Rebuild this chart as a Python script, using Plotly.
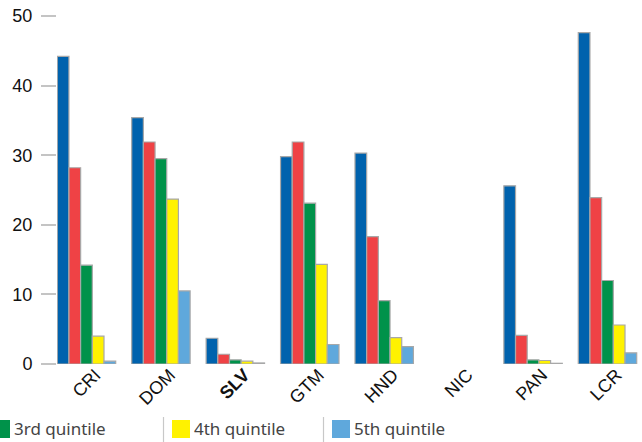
import plotly.graph_objects as go

# Share of population by income quintile, per country
countries = ["CRI", "DOM", "SLV", "GTM", "HND", "NIC", "PAN", "LCR"]
country_labels = ["CRI", "DOM", "<b>SLV</b>", "GTM", "HND", "NIC", "PAN", "LCR"]

q1 = [44.2, 35.4, 3.7, 29.8, 30.3, None, 25.6, 47.6]
q2 = [28.2, 31.9, 1.4, 31.9, 18.3, None, 4.1, 23.9]
q3 = [14.2, 29.5, 0.6, 23.1, 9.1, None, 0.6, 12.0]
q4 = [4.0, 23.7, 0.4, 14.3, 3.8, None, 0.5, 5.6]
q5 = [0.4, 10.5, 0.15, 2.8, 2.5, None, 0.1, 1.6]

series_names = ["1st quintile", "2nd quintile", "3rd quintile", "4th quintile", "5th quintile"]
series_values = [q1, q2, q3, q4, q5]
series_colors = ["#0062ad", "#ef4245", "#00924a", "#fff200", "#5fa8dc"]

y_ticks = [0, 10, 20, 30, 40, 50]

W, H = 642, 442
ML, MR, MT, MB = 57, 2, 16, 78
PW, PH = W - ML - MR, H - MT - MB

fig = go.Figure()
for name, vals, col in zip(series_names, series_values, series_colors):
    fig.add_trace(go.Bar(
        x=countries, y=vals, name=name,
        marker=dict(color=col, line=dict(color="#a8a8a8", width=1.2)),
        showlegend=False,
    ))


def px_x(p):
    return (p - ML) / PW


def px_y(p):
    return (H - MB - p) / PH


# Legend row along the bottom edge; the row is scrolled so the first
# entries sit left of the page and only the visible ones are drawn
legend_sq_left = [-368, -188, -8, 172, 332]
shapes = []
annotations = []
for i, (name, col, x0) in enumerate(zip(series_names, series_colors, legend_sq_left)):
    if x0 + 18 <= 0:
        continue
    shapes.append(dict(type="rect", xref="paper", yref="paper",
                       x0=px_x(x0), x1=px_x(x0 + 18), y0=px_y(438), y1=px_y(420),
                       fillcolor=col, line=dict(width=0), layer="above"))
    annotations.append(dict(text=name, xref="paper", yref="paper",
                            x=px_x(x0 + 20), y=px_y(429), xanchor="left", yanchor="middle",
                            showarrow=False,
                            font=dict(family="Noto Sans", size=17, color="#444444")))
    if x0 - 8.5 > 0:
        sx = x0 - 8.5
        shapes.append(dict(type="line", xref="paper", yref="paper",
                           x0=px_x(sx), x1=px_x(sx), y0=px_y(417), y1=px_y(442),
                           line=dict(color="#c8c8c8", width=1.2)))

fig.update_layout(
    width=W, height=H,
    margin=dict(l=ML, r=MR, t=MT, b=MB, autoexpand=False),
    paper_bgcolor="white", plot_bgcolor="white",
    barmode="group", bargap=0.215, bargroupgap=0,
    shapes=shapes, annotations=annotations,
    xaxis=dict(
        type="category", range=[-0.396, -0.396 + PW / 74.43],
        tickmode="array", tickvals=countries, ticktext=country_labels,
        tickangle=-45, showgrid=False, showline=False, zeroline=False, ticks="",
        tickfont=dict(family="Liberation Sans", size=18, color="#111111"),
        automargin=False, ticklabelstandoff=-4, ticklabelshift=9,
    ),
    yaxis=dict(
        range=[0, 50], tickmode="array", tickvals=y_ticks,
        ticks="outside", ticklen=15, tickcolor="#c4c4c4", tickwidth=1.5,
        showgrid=False, showline=False, zeroline=False,
        tickfont=dict(family="Liberation Sans", size=18, color="#111111"),
        automargin=False, ticklabelstandoff=5,
    ),
)

fig.write_html("out.html")
